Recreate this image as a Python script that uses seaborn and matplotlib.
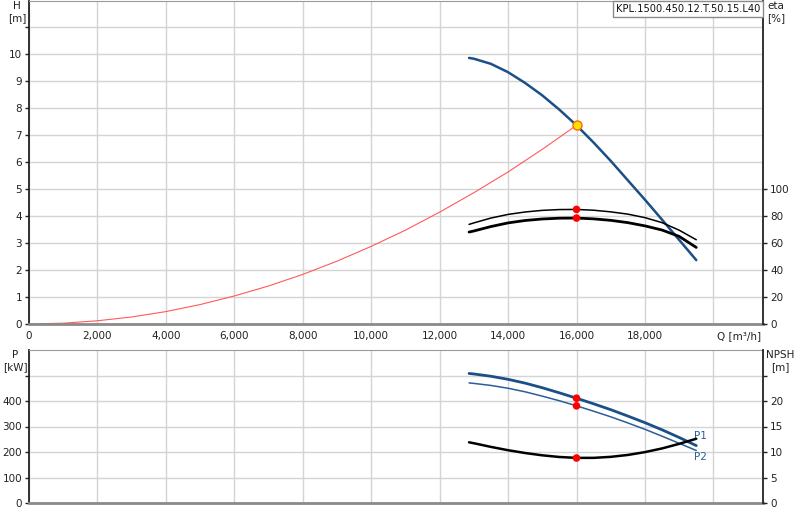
import numpy as np
import pandas as pd
import seaborn as sns
import matplotlib
matplotlib.use("Agg")
import matplotlib.pyplot as plt
from matplotlib.ticker import FuncFormatter

# ---- data ----
q_pump = [12860, 13000, 13500, 14000, 14500, 15000, 15500, 16000,
          16500, 17000, 17500, 18000, 18500, 19000, 19500]
h_pump = [9.87, 9.84, 9.65, 9.34, 8.94, 8.48, 7.95, 7.37,
          6.73, 6.05, 5.33, 4.61, 3.87, 3.12, 2.37]
eta_hyd = [73.9, 75.0, 78.6, 81.3, 83.1, 84.3, 84.9, 85.0,
           84.4, 83.2, 81.5, 78.9, 75.2, 69.6, 62.5]
eta_tot = [68.2, 69.0, 72.3, 75.0, 76.8, 77.9, 78.5, 78.6,
           78.0, 76.9, 75.2, 72.8, 69.7, 65.0, 56.8]
p1 = [508, 506, 497, 485, 470, 452, 432, 411,
      389, 366, 341, 315, 287, 257, 225]
p2 = [471, 469, 461, 450, 436, 419, 401, 381,
      360, 338, 314, 289, 262, 234, 206]
npsh = [11.9, 11.72, 11.0, 10.35, 9.8, 9.35, 9.02, 8.85,
        8.85, 9.05, 9.42, 9.98, 10.7, 11.6, 12.6]

q_sys = [0, 1000, 2000, 3000, 4000, 5000, 6000, 7000, 8000, 9000, 10000,
         11000, 12000, 13000, 14000, 15000, 16000]
h_sys = [0, 0.03, 0.12, 0.26, 0.46, 0.72, 1.04, 1.41, 1.84, 2.33, 2.88,
         3.48, 4.15, 4.87, 5.64, 6.48, 7.37]

q_duty = 16000
h_duty = 7.37
eta_duty = [85.0, 78.6]
p_duty = [411, 381]
npsh_duty = 8.82

model_name = "KPL.1500.450.12.T.50.15.L40"

# ---- styling ----
sns.set_style("white")
plt.rcParams["font.family"] = ["DejaVu Sans"]
fs = 7.5
blue = "#1b4f87"
blue2 = "#2a5d9a"
grid_c = "#d4d4d4"
W, H = 800, 520

fig = plt.figure(figsize=(8, 5.2), dpi=100)
ax_h = fig.add_axes([29 / W, 1 - 324 / H, 734 / W, 323.5 / H])
ax_p = fig.add_axes([29 / W, 1 - 503 / H, 734 / W, 153 / H])
ax_eta = ax_h.twinx()
ax_npsh = ax_p.twinx()

xmax = 21450
thousands = FuncFormatter(lambda v, p: f"{int(v):,}" if v < 19000 else "")

# upper panel: head, system curve, efficiency
sns.lineplot(x=q_sys, y=h_sys, ax=ax_h, color="#ff5a5a", linewidth=0.8)
sns.lineplot(x=q_pump, y=h_pump, ax=ax_h, color=blue, linewidth=1.8)
ax_h.plot([q_duty], [h_duty], "o", ms=6.5, mfc="#ffe000", mec="#ff6a00", mew=1.0, zorder=6)

sns.lineplot(x=q_pump, y=eta_hyd, ax=ax_eta, color="black", linewidth=1.1)
sns.lineplot(x=q_pump, y=eta_tot, ax=ax_eta, color="black", linewidth=2.0)
sns.scatterplot(x=[q_duty] * 2, y=eta_duty, ax=ax_eta, color="red", s=30,
                edgecolor="none", zorder=6)

ax_h.set_xlim(0, xmax)
ax_h.set_ylim(0, 12)
ax_eta.set_ylim(0, 240)
ax_h.set_xticks(np.arange(0, 20001, 2000))
ax_h.xaxis.set_major_formatter(thousands)
ax_h.set_yticks(np.arange(0, 12, 1))
ax_h.set_yticklabels([str(i) for i in range(11)] + [""])
ax_eta.set_yticks(np.arange(0, 101, 20))

# lower panel: power and NPSH
sns.lineplot(x=q_pump, y=p1, ax=ax_p, color=blue, linewidth=2.0)
sns.lineplot(x=q_pump, y=p2, ax=ax_p, color=blue2, linewidth=1.1)
sns.scatterplot(x=[q_duty] * 2, y=p_duty, ax=ax_p, color="red", s=30,
                edgecolor="none", zorder=6)
sns.lineplot(x=q_pump, y=npsh, ax=ax_npsh, color="black", linewidth=1.8)
sns.scatterplot(x=[q_duty], y=[npsh_duty], ax=ax_npsh, color="red", s=30,
                edgecolor="none", zorder=6)
ax_p.text(19420, 262, "P1", color=blue2, fontsize=fs, va="center")
ax_p.text(19420, 181, "P2", color=blue2, fontsize=fs, va="center")

ax_p.set_xlim(0, xmax)
ax_p.set_ylim(0, 600)
ax_npsh.set_ylim(0, 30)
ax_p.set_xticks(np.arange(0, 20001, 2000))
ax_p.tick_params(axis="x", length=0, labelbottom=False)
ax_p.set_yticks(np.arange(0, 501, 100))
ax_p.set_yticklabels(["0", "100", "200", "300", "400", ""])
ax_npsh.set_yticks(np.arange(0, 26, 5))
ax_npsh.set_yticklabels(["0", "5", "10", "15", "20", ""])

for ax in (ax_h, ax_p):
    ax.grid(True, color=grid_c, linewidth=1.0)
    ax.set_axisbelow(True)
    ax.set_xlabel("")
    ax.set_ylabel("")
    ax.spines["left"].set_color("#222222")
    ax.spines["left"].set_linewidth(1.3)
    ax.spines["bottom"].set_color("#8a8a8a")
    ax.spines["bottom"].set_linewidth(2.0)
    ax.spines["top"].set_color("#9a9a9a")
    ax.spines["right"].set_visible(False)
    ax.tick_params(axis="both", labelsize=fs, length=3, width=1, pad=2, colors="#222222")
for ax in (ax_eta, ax_npsh):
    ax.set_ylabel("")
    ax.grid(False)
    ax.spines["right"].set_color("#222222")
    ax.spines["right"].set_linewidth(1.3)
    for s in ("left", "top", "bottom"):
        ax.spines[s].set_visible(False)
    ax.tick_params(axis="y", labelsize=fs, length=3, width=1, pad=2, colors="#222222")

# axis captions
cap = dict(fontsize=fs, ha="center", va="center", color="#222222")
fig.text(17 / W, 1 - 6 / H, "H", **cap)
fig.text(17 / W, 1 - 18 / H, "[m]", **cap)
fig.text(776 / W, 1 - 6 / H, "eta", **cap)
fig.text(776 / W, 1 - 18 / H, "[%]", **cap)
fig.text(739 / W, 1 - 336 / H, "Q [m³/h]", **cap)
fig.text(15 / W, 1 - 355 / H, "P", **cap)
fig.text(15 / W, 1 - 367 / H, "[kW]", **cap)
fig.text(780 / W, 1 - 355 / H, "NPSH", **cap)
fig.text(780 / W, 1 - 367 / H, "[m]", **cap)
fig.text(688 / W, 1 - 9 / H, model_name, fontsize=7.1, ha="center", va="center", color="#111111",
         bbox=dict(boxstyle="square,pad=0.3", fc="white", ec="#8a8a8a", lw=1.0))

fig.savefig("out.png", dpi=100, facecolor="white")
